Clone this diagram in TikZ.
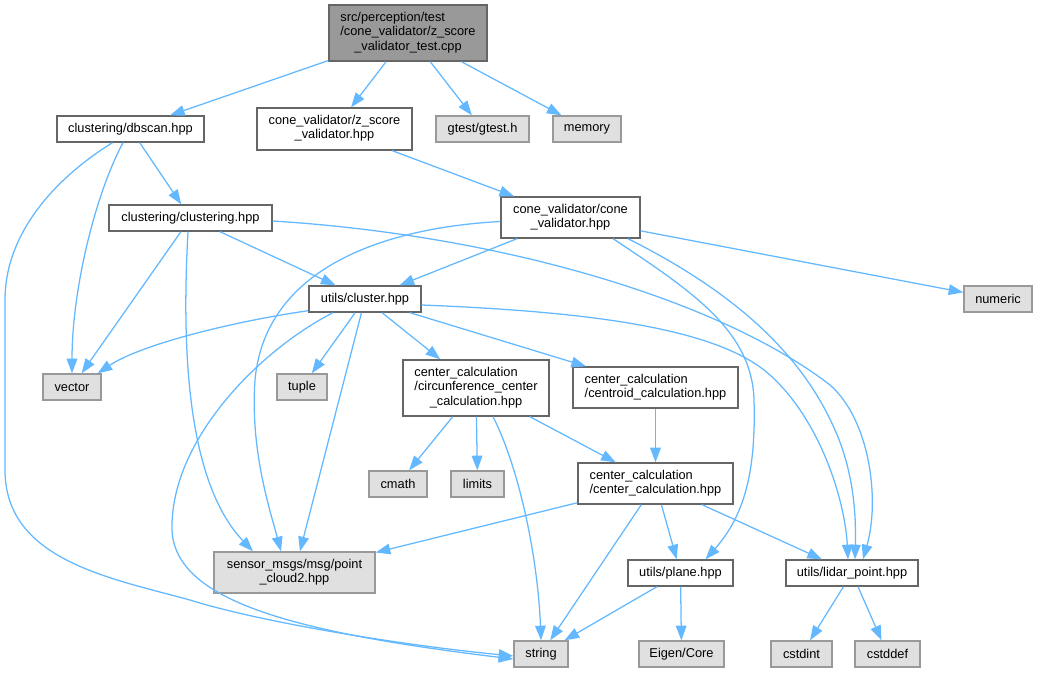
\documentclass[tikz,border=0pt]{standalone}
\usepackage{fontspec}
\setmainfont{Liberation Sans}
\usetikzlibrary{arrows.meta,calc}

\definecolor{edgeblue}{HTML}{63B8FF}
\definecolor{boxline}{HTML}{666666}
\definecolor{extline}{HTML}{999999}
\definecolor{extfill}{HTML}{E0E0E0}
\definecolor{testfill}{HTML}{999999}

\tikzset{
  hdr/.style={draw=boxline, fill=white, line width=1pt, inner sep=0pt,
    minimum height=19.5pt, font=\fontsize{9.6}{10.7}\selectfont},
  sys/.style={hdr, draw=extline, fill=extfill},
  tst/.style={hdr, fill=testfill},
  dep/.style={draw=edgeblue, line width=0.95pt, -{Triangle[length=11pt,width=8pt]}}
}
\newcommand{\twolines}[2]{\begin{tabular}{@{}l@{}}#1\\\multicolumn{1}{@{}c@{}}{#2}\end{tabular}}

\begin{document}
\begin{tikzpicture}[x=0.75pt,y=-0.75pt]
    \useasboundingbox (0,0) rectangle (1038,672);

    % Fila 1 y 2
    \node (test) at (408,33) [tst, minimum width=118.5pt, minimum height=42pt]
        {\twolines{src/perception/test\\/cone\_validator/z\_score}{\_validator\_test.cpp}};
    \node (dbscan) at (130.5,129) [hdr, minimum width=110.25pt] {clustering/dbscan.hpp};
    \node (zscore) at (334.5,129) [hdr, minimum width=116.25pt, minimum height=31.5pt]
        {\twolines{cone\_validator/z\_score}{\_validator.hpp}};
    \node (gtest) at (482.5,129) [sys, minimum width=69.75pt] {gtest/gtest.h};
    \node (memory) at (587,129) [sys, minimum width=51pt] {memory};

    % Fila 3 y 4
    \node (conevalid) at (570.5,217.5) [hdr, minimum width=104.25pt, minimum height=30.75pt]
        {\twolines{cone\_validator/cone}{\_validator.hpp}};
    \node (clustering) at (190.5,218) [hdr, minimum width=122.25pt] {clustering/clustering.hpp};
    \node (numeric) at (998,299) [sys, minimum width=51pt] {numeric};
    \node (cluster) at (365,299) [hdr, minimum width=84pt] {utils/cluster.hpp};

    % Fila 5 y 6
    \node (vector) at (72,387) [sys, minimum width=43.5pt] {vector};
    \node (tuple) at (302,387) [sys, minimum width=37.5pt] {tuple};
    \node (circcalc) at (476,388) [hdr, minimum width=109.5pt, minimum height=42pt]
        {\twolines{center\_calculation\\/circunference\_center}{\_calculation.hpp}};
    \node (centroid) at (655.5,387.5) [hdr, minimum width=123.75pt, minimum height=30.75pt]
        {\twolines{center\_calculation}{/centroid\_calculation.hpp}};
    \node (cmath) at (398,484) [sys, minimum width=43.5pt] {cmath};
    \node (limits) at (477.5,484) [sys, minimum width=39.75pt] {limits};
    \node (centercalc) at (655.5,483.5) [hdr, minimum width=116.25pt, minimum height=30.75pt]
        {\twolines{center\_calculation}{/center\_calculation.hpp}};

    % Fila 7 y 8
    \node (pointcloud) at (294.5,572.5) [sys, minimum width=120.75pt, minimum height=30.75pt]
        {\twolines{sensor\_msgs/msg/point}{\_cloud2.hpp}};
    \node (plane) at (680.5,573) [hdr, minimum width=78.75pt] {utils/plane.hpp};
    \node (lidar) at (852,573) [hdr, minimum width=99pt] {utils/lidar\_point.hpp};
    \node (string) at (541,654) [sys, minimum width=40.5pt] {string};
    \node (eigen) at (681.5,654) [sys, minimum width=63.75pt] {Eigen/Core};
    \node (cstdint) at (801.5,654) [sys, minimum width=45.75pt] {cstdint};
    \node (cstddef) at (887.5,654) [sys, minimum width=48.75pt] {cstddef};

    % Dependencias rectas
    \draw[dep] (test) -- (dbscan);
    \draw[dep] (test) -- (zscore);
    \draw[dep] (test) -- (gtest);
    \draw[dep] (test) -- (memory);
    \draw[dep] (dbscan) -- (clustering);
    \draw[dep] (zscore) -- (conevalid);
    \draw[dep] (clustering) -- (vector);
    \draw[dep] (clustering) -- (cluster);
    \draw[dep] (conevalid) -- (cluster);
    \draw[dep] (conevalid) -- (numeric);
    \draw[dep] (cluster) -- (tuple);
    \draw[dep] (cluster) -- (pointcloud);
    \draw[dep] (cluster) -- (circcalc);
    \draw[dep] (cluster) -- (centroid);
    \draw[dep] (circcalc) -- (cmath);
    \draw[dep] (circcalc) -- (limits);
    \draw[dep] (circcalc) -- (centercalc);
    \draw[dep] (centroid) -- (centercalc);
    \draw[dep] (centercalc) -- (pointcloud);
    \draw[dep] (centercalc) -- (string);
    \draw[dep] (centercalc) -- (plane);
    \draw[dep] (centercalc) -- (lidar);
    \draw[dep] (plane) -- (string);
    \draw[dep] (plane) -- (eigen);
    \draw[dep] (lidar) -- (cstdint);
    \draw[dep] (lidar) -- (cstddef);

    % Dependencias curvas
    \draw[dep] ($(dbscan.south)+(-7.5,0)$) .. controls (95,195) and (72,290) .. (vector.north);
    \draw[dep] ($(dbscan.south)+(-18,0)$) .. controls (60,175) and (5,230) .. (5,300) -- (5,470)
        .. controls (5,560) and (110,578) .. (190,600)
        .. controls (260,622) and (400,645) .. ($(string.west)+(0,2)$);
    \draw[dep] ($(clustering.south)+(-2.5,0)$) .. controls (182,340) and (185,480) .. ($(pointcloud.north)+(-41.5,0)$);
    \draw[dep] ($(clustering.east)+(0,3)$) .. controls (500,235) and (720,300) .. (830,385)
        .. controls (870,420) and (880,500) .. ($(lidar.north)+(11,0)$);
    \draw[dep] ($(conevalid.west)+(0,4)$) .. controls (380,228) and (265,270) .. (255,380)
        .. controls (250,450) and (270,510) .. ($(pointcloud.north)+(-13.5,0)$);
    \draw[dep] ($(conevalid.south)+(42.5,0)$) .. controls (690,290) and (752,330) .. (754,400)
        .. controls (756,470) and (745,515) .. ($(plane.north)+(25,0)$);
    \draw[dep] ($(conevalid.south)+(57.5,0)$) .. controls (730,290) and (800,350) .. (835,430)
        .. controls (855,475) and (856,520) .. ($(lidar.north)+(3,0)$);
    \draw[dep] ($(cluster.south west)+(0,-2)$) .. controls (230,322) and (140,345) .. ($(vector.north east)+(-4,0)$);
    \draw[dep] ($(cluster.south)+(-32,0)$) .. controls (260,350) and (170,440) .. (172,530)
        .. controls (175,600) and (290,632) .. ($(string.west)+(0,5)$);
    \draw[dep] ($(cluster.east)+(0,6)$) .. controls (600,312) and (720,330) .. (770,375)
        .. controls (820,420) and (845,500) .. ($(lidar.north)+(-4,0)$);
    \draw[dep] ($(circcalc.south)+(17,0)$) .. controls (520,470) and (538,560) .. (string.north);
\end{tikzpicture}
\end{document}
